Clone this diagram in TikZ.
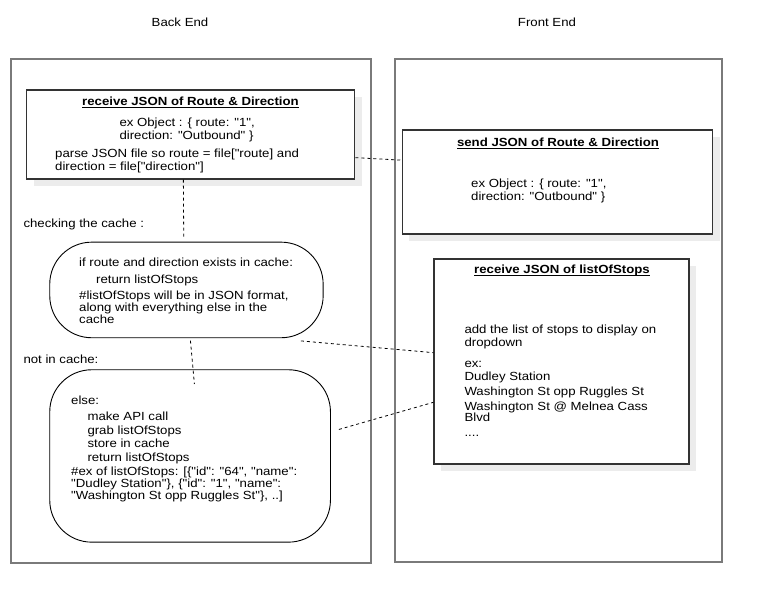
\documentclass[tikz,border=0pt]{standalone}
\usepackage{fontspec}
\setmainfont[FakeStretch=1.12, Ligatures=TeXOff]{Liberation Sans}
\usetikzlibrary{calc}
\definecolor{laneGray}{HTML}{7A7A7A}
\definecolor{boxEdge}{HTML}{333333}
\definecolor{shadowGray}{HTML}{ECECEC}
% underline that ignores descenders
\newcommand\ulflat[1]{\underline{\raisebox{0pt}[\height][0pt]{#1}}}
\begin{document}
\begin{tikzpicture}[x=1pt,y=-1pt,
  every node/.style={font=\fontsize{11.8}{11.8}\selectfont, inner sep=0pt, text=black},
  lane/.style={draw=laneGray, line width=2pt, anchor=north west},
  card/.style={draw=boxEdge, line width=1.3pt, fill=white, anchor=north west},
  pill/.style={draw=black, line width=0.9pt, rounded corners=42pt, anchor=north west},
  link/.style={draw=black, line width=0.8pt, dash pattern=on 3pt off 3pt},
  lbl/.style={anchor=west},
  blk/.style={anchor=north west, align=left},
  ttl/.style={font=\fontsize{11.8}{11.8}\selectfont\bfseries}
]
\useasboundingbox (0,0) rectangle (761,602);

% lane headers
\node (hdrBack) at (180,22) {Back End};
\node (hdrFront) at (547,22) {Front End};

% swim lanes
\node[lane, minimum width=360.5pt, minimum height=504pt] (laneBack) at (9.5,57.7) {};
\node[lane, minimum width=327.5pt, minimum height=503pt] (laneFront) at (393.5,57.7) {};

% shadows behind the cards
\fill[shadowGray] (33.5,96.8) rectangle (361.5,185.8);
\fill[shadowGray] (409.2,136.8) rectangle (719.5,240.8);
\fill[shadowGray] (440.8,265.8) rectangle (695.8,470.8);

% back end: receive route & direction
\node[card, minimum width=328pt, minimum height=89pt] (rcvRoute) at (26,89.3) {};
\node[ttl] (ttlRoute) at (190.5,102.7) {\ulflat{receive JSON of Route \& Direction}};
\node[blk] (txtRouteEx) at (119.3,117.7) {\strut ex Object : \{ route: "1",\\direction: "Outbound" \}};
\node[blk] (txtParse) at (55,148.7) {\strut parse JSON file so route = file["route] and\\direction = file["direction"]};

% front end: send route & direction
\node[card, minimum width=310.3pt, minimum height=104pt] (sendRoute) at (401.7,129.3) {};
\node[ttl] (ttlSend) at (558,143.3) {\ulflat{send JSON of Route \& Direction}};
\node[blk] (txtSendEx) at (471,178.7) {\strut ex Object : \{ route: "1",\\direction: "Outbound" \}};

% front end: receive list of stops
\node[card, minimum width=255pt, minimum height=205pt] (rcvStops) at (433.3,258.3) {};
\node[ttl] (ttlStops) at (562,270.7) {\ulflat{receive JSON of listOfStops}};
\node[blk] (txtDisplay) at (464.3,324.3) {\strut add the list of stops to display on\\dropdown};
\node[blk] (txtStopsEx) at (464.3,359) {\strut ex:\\[0pt]Dudley Station\\[3pt]Washington St opp Ruggles St\\[3pt]Washington St @ Melnea Cass\\Blvd\\[3pt]....};

% back end: cache check
\node[lbl] (lblCheck) at (23.3,224) {checking the cache :};
\node[pill, minimum width=273.4pt, minimum height=95.6pt] (cacheHit) at (49.3,241.7) {};
\node[blk] (txtHit) at (79,257.7) {\strut if route and direction exists in cache:\\[3.5pt]
  \hspace*{17pt}return listOfStops\\[5pt]
  \#listOfStops will be in JSON format,\\along with everything else in the\\cache};

% back end: cache miss
\node[lbl] (lblMiss) at (23.3,359.3) {not in cache:};
\node[pill, minimum width=280.7pt, minimum height=172.4pt] (cacheMiss) at (49.3,369.3) {};
\node[blk] (txtMiss) at (71,396) {\strut else:\\[2.5pt]
  \hspace*{16.3pt}make API call\\[2pt]
  \hspace*{16.3pt}grab listOfStops\\[2pt]
  \hspace*{16.3pt}store in cache\\[2pt]
  \hspace*{16.3pt}return listOfStops\\[2pt]
  \#ex of listOfStops: [\{"id": "64", "name":\\
  "Dudley Station"\}, \{"id": "1", "name":\\
  "Washington St opp Ruggles St"\}, ..]};

% dashed connectors
\draw[link] ($(rcvRoute.east)+(0,23.2)$) -- ($(sendRoute.west)+(0,-21.8)$);
\draw[link] ($(rcvRoute.south)+(-7.3,0)$) -- ($(cacheHit.north)+(-2.7,-3)$);
\coordinate (missInside) at ($(cacheMiss.north)+(4.3,14.7)$);
\draw[link] ($(cacheHit.south)+(4,2.5)$) -- (missInside);
\draw[link] ($(cacheHit.south east)+(-22.7,2.7)$) -- ($(rcvStops.west)+(0,-8.8)$);
\coordinate (missRight) at ($(cacheMiss.east)+(8,-26.5)$);
\draw[link] (missRight) -- ($(rcvStops.west)+(0,40.9)$);
\end{tikzpicture}
\end{document}
